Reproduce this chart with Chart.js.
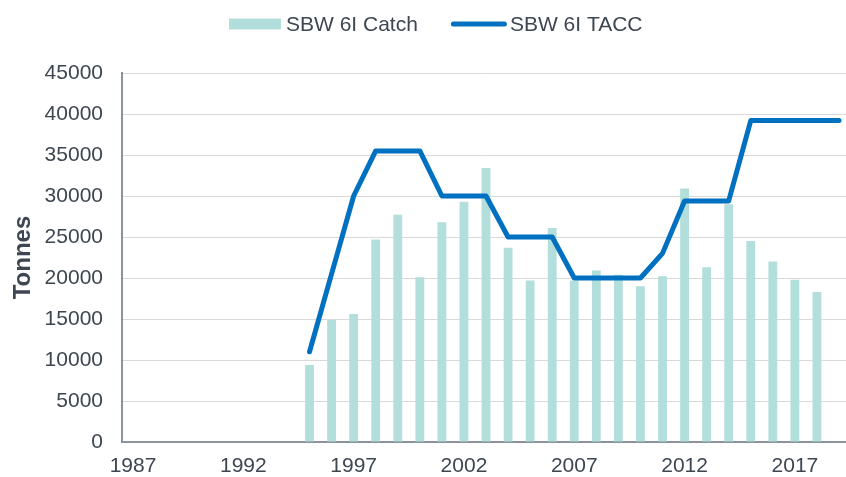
<!DOCTYPE html>
<html>
<head>
<meta charset="utf-8">
<script src="https://cdn.jsdelivr.net/npm/chart.js@4/dist/chart.umd.min.js"></script>
<style>
  html, body { margin: 0; padding: 0; background: #ffffff; overflow: hidden; }
  #wrap { width: 846px; height: 477px; overflow: hidden; position: relative; }
  canvas { display: block; }
</style>
</head>
<body>
<div id="wrap"><canvas id="c" width="851" height="477"></canvas></div>
<script>
const years = [];
for (let y = 1987; y <= 2019; y++) years.push(String(y));

const tickLabels = ['1987', '1992', '1997', '2002', '2007', '2012', '2017'];

const catchValues = [
  null, null, null, null, null, null, null, null,
  9400, 14900, 15600, 24700, 27700, 20100, 26800, 29300, 33400, 23700,
  19700, 26100, 19700, 20900, 20400, 19000, 20200, 30900, 21300, 29000,
  24500, 22000, 19800, 18300, null
];

const taccValues = [
  null, null, null, null, null, null, null, null,
  11000, 20500, 30000, 35500, 35500, 35500, 30000, 30000, 30000, 25000,
  25000, 25000, 20000, 20000, 20000, 20000, 23000, 29400, 29400, 29400,
  39200, 39200, 39200, 39200, 39200
];

const FONT = '"Liberation Sans", Arial, Helvetica, sans-serif';
const TEXT = '#3e4651';
const AXIS = '#8a929b';
const GRID = '#d9d9d9';

const legendPlugin = {
  id: 'topLegend',
  afterDraw(chart) {
    const ctx = chart.ctx;
    ctx.save();
    ctx.font = '21px ' + FONT;
    ctx.textBaseline = 'middle';
    ctx.textAlign = 'left';
    let x = 229;
    const cy = 24;
    chart.data.datasets.forEach((ds) => {
      if (ds.type === 'line') {
        const w = 56;
        ctx.strokeStyle = ds.borderColor;
        ctx.lineWidth = 5;
        ctx.lineCap = 'round';
        ctx.beginPath();
        ctx.moveTo(x + 2.5, cy);
        ctx.lineTo(x + w - 2.5, cy);
        ctx.stroke();
        x += w + 3;
      } else {
        const w = 52;
        ctx.fillStyle = ds.backgroundColor;
        ctx.fillRect(x, cy - 5.5, w, 11);
        x += w + 5;
      }
      ctx.fillStyle = TEXT;
      ctx.fillText(ds.label, x, cy + 1);
      x += ctx.measureText(ds.label).width + 33;
    });
    ctx.restore();
  }
};

new Chart(document.getElementById('c'), {
  data: {
    labels: years,
    datasets: [
      {
        type: 'bar',
        label: 'SBW 6I Catch',
        data: catchValues,
        backgroundColor: '#b2dfdb',
        borderWidth: 0,
        categoryPercentage: 1.0,
        barPercentage: 0.4,
        order: 1
      },
      {
        type: 'line',
        label: 'SBW 6I TACC',
        data: taccValues,
        borderColor: '#0070c0',
        backgroundColor: '#0070c0',
        borderWidth: 5,
        borderCapStyle: 'round',
        borderJoinStyle: 'round',
        pointRadius: 0,
        pointHoverRadius: 0,
        tension: 0,
        fill: false,
        order: 0
      }
    ]
  },
  options: {
    responsive: false,
    animation: false,
    devicePixelRatio: 1,
    layout: { padding: { top: 73, right: 0, bottom: 0, left: 0 } },
    plugins: {
      legend: { display: false },
      tooltip: { enabled: false },
      title: { display: false }
    },
    scales: {
      x: {
        type: 'category',
        offset: true,
        grid: { display: false, drawTicks: false },
        border: { display: true, color: AXIS, width: 2 },
        ticks: {
          autoSkip: false,
          maxRotation: 0,
          padding: 12,
          color: TEXT,
          font: { family: FONT, size: 21 },
          callback: function (value) {
            const lab = this.getLabelForValue(value);
            return tickLabels.includes(lab) ? lab : '';
          }
        },
        afterFit(scale) { scale.height = 35; }
      },
      y: {
        min: 0,
        max: 45000,
        grid: { color: GRID, lineWidth: 1, drawTicks: false },
        border: { display: true, color: AXIS, width: 2 },
        ticks: {
          stepSize: 5000,
          padding: 19,
          color: TEXT,
          font: { family: FONT, size: 21 },
          callback: (v) => String(v)
        },
        title: {
          display: true,
          text: 'Tonnes',
          color: TEXT,
          font: { family: FONT, size: 24, weight: 'bold' },
          padding: { top: 9, bottom: 0 }
        },
        afterFit(scale) { scale.width = 122; }
      }
    }
  },
  plugins: [legendPlugin]
});
</script>
</body>
</html>
